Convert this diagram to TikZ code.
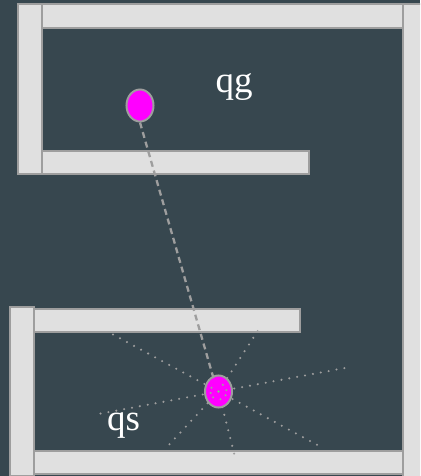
\documentclass[tikz,border=0pt]{standalone}
\usepackage{fontspec}
\setmainfont{Liberation Serif}
\usetikzlibrary{shapes.geometric}
\definecolor{slatebg}{HTML}{37474F}
\definecolor{wallfill}{HTML}{E0E0E0}
\definecolor{wallline}{HTML}{9E9E9E}
\definecolor{robotpink}{HTML}{FF00FF}
\tikzset{
  wall/.style={draw=wallline, fill=wallfill, line width=1.6pt},
  robot/.style={ellipse, draw=wallline, fill=robotpink, line width=2pt,
                minimum width=27pt, minimum height=32pt, inner sep=0pt},
  path line/.style={draw=wallline, line width=2.3pt, dash pattern=on 6pt off 4pt},
  ray/.style={draw=wallline, line width=2.3pt, line cap=round, dash pattern=on 0pt off 8pt},
  qlabel/.style={text=white, font=\fontsize{37}{40}\selectfont, anchor=base, inner sep=0pt},
}
\begin{document}
\begin{tikzpicture}[x=1pt, y=-1pt]

% --- background ---
\fill[slatebg] (0,0) rectangle (420,476);
\useasboundingbox (0,0) rectangle (420,476);
\clip (0,0) rectangle (420,476);

% --- upper room ---
\draw[wall] (18,4) rectangle (42,174);
\draw[wall] (42,4) rectangle (403,28);
\draw[wall] (42,151) rectangle (309,174);

% --- lower room ---
\draw[wall] (10,307) rectangle (34,476);
\draw[wall] (34,309) rectangle (300,332);
\draw[wall] (34,451) rectangle (403,474);

% --- outer wall ---
\draw[wall] (403,4) rectangle (424,480);

% --- states ---
\node[robot] (goal) at (140,105.5) {};
\node[robot] (start) at (218.5,391.5) {};
\coordinate (startin) at (214,380);

\node[qlabel] (qg) at (234,93) {qg};
\node[qlabel] (qs) at (123.5,430) {qs};

% --- path to goal ---
\draw[path line] (goal.south) -- (startin);

% --- sensor rays ---
\coordinate (r1) at (112,334);
\coordinate (r2) at (259,329);
\coordinate (r3) at (345,368);
\coordinate (r4) at (323,448);
\coordinate (r5) at (235,457);
\coordinate (r6) at (166,448);
\coordinate (r7) at (93,415);
\foreach \r in {r1,r2,r3,r4,r5,r6,r7}
  \draw[ray] (start.center) -- (\r);

\end{tikzpicture}
\end{document}
